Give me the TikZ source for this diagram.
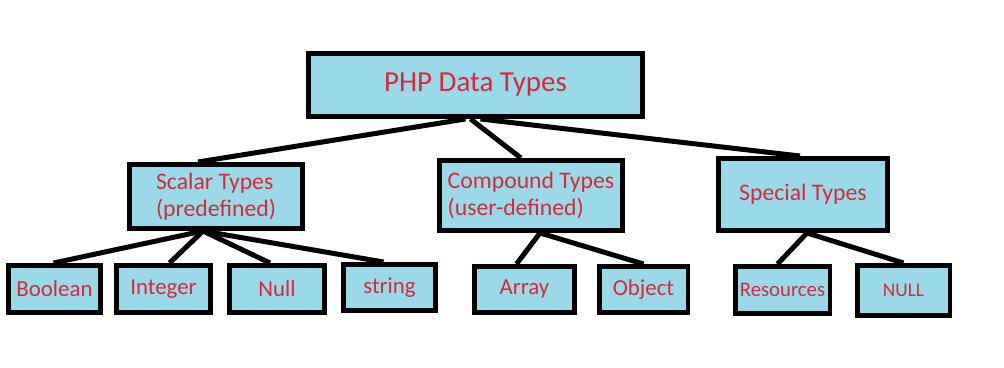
\documentclass[tikz,border=0pt]{standalone}
\usepackage{fontspec}
\setmainfont{Carlito}
\usetikzlibrary{backgrounds,calc}
\definecolor{boxfill}{HTML}{99D9EA}
\definecolor{labelred}{HTML}{D42A3A}
\tikzset{
  typebox/.style={draw=black,fill=boxfill,line width=0.09cm,text=labelred,align=left,inner sep=2pt},
  rootbox/.style={typebox,font=\fontsize{16.5}{19}\selectfont},
  groupbox/.style={typebox,font=\fontsize{13.5}{15}\selectfont},
  leafbox/.style={typebox,font=\fontsize{13}{15}\selectfont,minimum height=0.95cm},
  link/.style={draw=black,line width=0.1cm}
}

\begin{document}
\begin{tikzpicture}[x=0.02cm,y=-0.02cm]
  \useasboundingbox (0,0) rectangle (1004,368);

  \node[rootbox,minimum width=6.69cm,minimum height=1.27cm] (php) at (475.5,85) {PHP Data Types};

  \node[groupbox,minimum width=3.47cm,minimum height=1.29cm] (scalar) at (216,196.5)
    {Scalar Types\\(predefined)};
  \node[groupbox,minimum width=3.67cm,minimum height=1.41cm] (compound) at (531,195.5)
    {Compound Types\\(user-defined)};
  \node[groupbox,minimum width=3.39cm,minimum height=1.45cm] (special) at (803,194.5)
    {Special Types};

  \node[leafbox,minimum width=1.85cm] (boolean) at (54.5,289) {Boolean};
  \node[leafbox,minimum width=1.89cm] (integer) at (163.5,289) {Integer};
  \node[leafbox,minimum width=1.91cm] (null) at (277,289) {Null};
  \node[leafbox,minimum width=1.85cm,minimum height=0.93cm] (string) at (389.5,287.5) {string};
  \node[leafbox,minimum width=2.01cm,minimum height=0.93cm] (array) at (524.5,289.5) {Array};
  \node[leafbox,minimum width=1.77cm,minimum height=0.93cm] (object) at (643.5,289.5) {Object};
  \node[leafbox,minimum width=1.89cm,font=\fontsize{11.8}{14}\selectfont] (resources) at (782.5,290) {Resources};
  \node[leafbox,minimum width=1.85cm,minimum height=1.01cm,font=\fontsize{11}{13}\selectfont] (nulltype) at (903.5,290.5) {NULL};

  \begin{scope}[on background layer]
    \draw[link] ($(php.south)+(-10,0)$) -- ($(scalar.north)+(-18,0)$);
    \draw[link] ($(php.south)+(-5,0)$) -- ($(compound.north)+(-10,0)$);
    \draw[link] ($(php.south)+(5,0)$) -- ($(special.north)+(-3,0)$);

    \draw[link] ($(scalar.south)+(-13,0)$) -- ($(boolean.north)+(-1,0)$);
    \draw[link] ($(scalar.south)+(-13,0)$) -- ($(integer.north)+(6,0)$);
    \draw[link] ($(scalar.south)+(-13,0)$) -- ($(null.north)+(-7,0)$);
    \draw[link] ($(scalar.south)+(-13,0)$) -- ($(string.north)+(-6,0)$);

    \draw[link] ($(compound.south)+(9,0)$) -- ($(array.north)+(-8,0)$);
    \draw[link] ($(compound.south)+(9,0)$) -- (object.north);

    \draw[link] ($(special.south)+(4,0)$) -- ($(resources.north)+(-5,0)$);
    \draw[link] ($(special.south)+(4,0)$) -- (nulltype.north);
  \end{scope}
\end{tikzpicture}
\end{document}
